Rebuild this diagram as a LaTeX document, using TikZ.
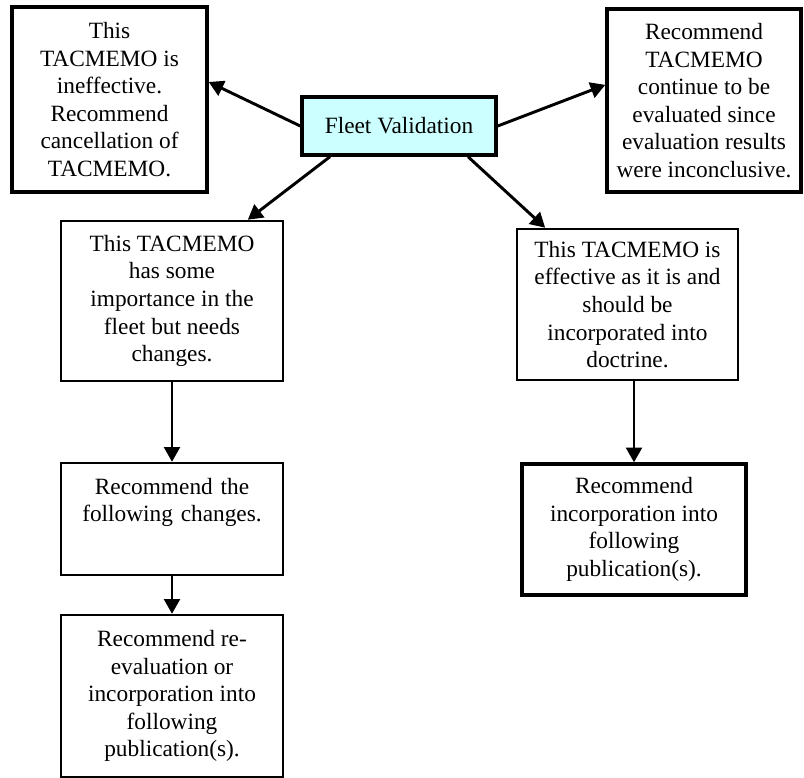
\documentclass[tikz,border=0pt]{standalone}
\usepackage{fontspec}
\setmainfont{Liberation Serif}
\usepackage{tikz}
\usetikzlibrary{arrows.meta, positioning}
\usepackage{xcolor}

\definecolor{fleetcyan}{RGB}{204,255,255}

\tikzset{
  memo/.style={draw, line width=1.9pt, align=center, inner sep=2pt,
    font=\fontsize{17.5pt}{20.7pt}\selectfont},
  heavymemo/.style={memo, line width=2.6pt},
  link/.style={-{Triangle[length=11pt,width=12pt]}, line width=2.2pt},
  drop/.style={-{Triangle[length=11pt,width=12pt]}, line width=1.6pt}
}

\begin{document}
\begin{tikzpicture}[x=0.75pt, y=-0.75pt]
\useasboundingbox (0,0) rectangle (804,778);
\node[heavymemo, fill=fleetcyan, minimum width=145.5pt, minimum height=43.5pt] (fleet) at (399,126) {Fleet Validation};
\node[heavymemo, minimum width=146.25pt, minimum height=138.75pt] (invalid) at (109.5,99.5)
  {This\\TACMEMO is\\ineffective.\\Recommend\\cancellation of\\TACMEMO.};
\node[heavymemo, minimum width=145.5pt, minimum height=137.25pt] (cont) at (704,100.5)
  {Recommend\\TACMEMO\\continue to be\\evaluated since\\evaluation results\\were inconclusive.};
\node[memo, minimum width=166.5pt, minimum height=120pt] (changes) at (172,301)
  {This TACMEMO\\has some\\importance in the\\fleet but needs\\changes.};
\node[memo, minimum width=165.75pt, minimum height=113.25pt] (effective) at (627.5,304.5)
  {This TACMEMO is\\effective as it is and\\should be\\incorporated into\\doctrine.};
\node[memo, text width=150pt, text height=12pt, text depth=49pt, inner ysep=11pt,
  minimum width=166.5pt, minimum height=84pt] (list) at (172,519)
  {Recommend the\\following changes.};
\node[memo, minimum width=166.5pt, minimum height=121.5pt] (reeval) at (172,696)
  {Recommend re-\\evaluation or\\incorporation into\\following\\publication(s).};
\node[heavymemo, minimum width=168pt, minimum height=98.25pt] (incorp) at (634,529.5)
  {Recommend\\incorporation into\\following\\publication(s).};

% arrows out of the validation box
\draw[link] (fleet.west) -- (invalid.10);
\draw[link] (fleet.east) -- (cont.171);
\draw[link] (fleet.204) -- (changes.47);
\draw[link] (fleet.336) -- (effective.137);

% follow-up steps
\draw[drop] (changes.south) -- (list.north);
\draw[drop] (list.south) -- (reeval.north);
\draw[drop] (effective.south -| incorp.north) -- (incorp.north);
\end{tikzpicture}
\end{document}
